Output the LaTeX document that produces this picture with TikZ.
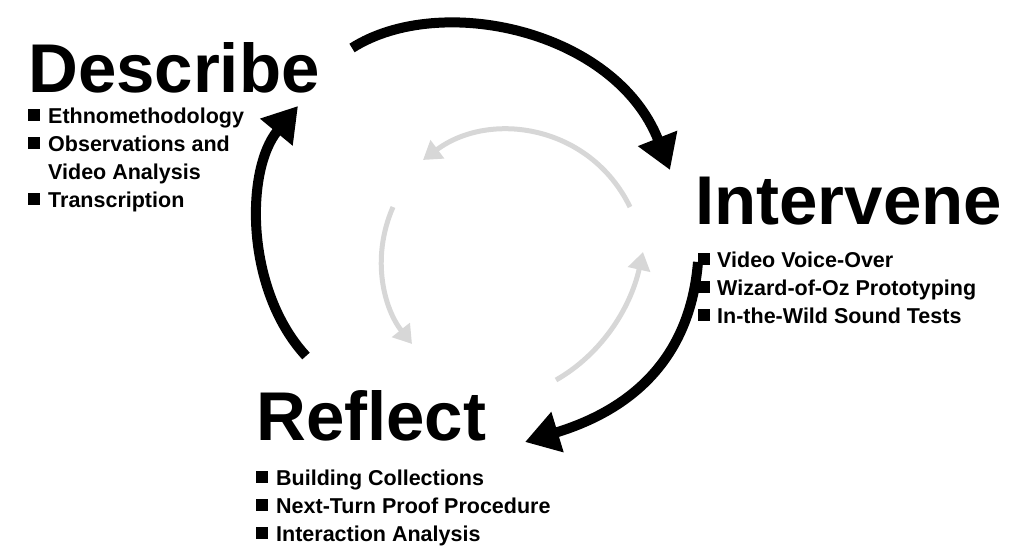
\documentclass[tikz,border=0pt]{standalone}
\usepackage{fontspec}
\setmainfont{Liberation Sans}
\usetikzlibrary{arrows.meta}
\begin{document}
\begin{tikzpicture}[x=1pt,y=-1pt,
  title/.style={anchor=base west,inner sep=0,font=\fontsize{69}{69}\selectfont\bfseries},
  item/.style={anchor=base west,inner sep=0,font=\fontsize{21.5}{21.5}\selectfont\bfseries},
  bul/.style={fill=black,minimum size=12,inner sep=0,anchor=south west},
  big/.style={line width=10,-{Triangle[length=34,width=40]}},
  small/.style={line width=5,draw={rgb,255:red,215;green,215;blue,215},-{Triangle[length=18,width=22]}}]
\useasboundingbox (0,0) rectangle (1023,554);
% Describe
\node[title] (d) at (28,92) {Describe};
\node[bul] (db1) at (28,121) {}; \node[item] (d1) at (48,123) {Ethnomethodology};
\node[bul] (db2) at (28,149) {}; \node[item] (d2) at (48,151) {Observations and};
\node[item] (d3) at (48,179) {Video Analysis};
\node[bul] (db4) at (28,205) {}; \node[item] (d4) at (48,207) {Transcription};
% Intervene
\node[title] (i) at (695,224) {Intervene};
\node[bul] (ib1) at (698,265) {}; \node[item] (i1) at (717,267) {Video Voice-Over};
\node[bul] (ib2) at (698,293) {}; \node[item] (i2) at (717,295) {Wizard-of-Oz Prototyping};
\node[bul] (ib3) at (698,321) {}; \node[item] (i3) at (717,323) {In-the-Wild Sound Tests};
% Reflect
\node[title] (r) at (256,440) {Reflect};
\node[bul] (rb1) at (256,483) {}; \node[item] (r1) at (276,485) {Building Collections};
\node[bul] (rb2) at (256,511) {}; \node[item] (r2) at (276,513) {Next-Turn Proof Procedure};
\node[bul] (rb3) at (256,539) {}; \node[item] (r3) at (276,541) {Interaction Analysis};
% big arrows
\coordinate (a1) at (352,48); \coordinate (a2) at (670,170);
\coordinate (b1) at (698,262); \coordinate (b2) at (525,442);
\coordinate (c1) at (306,356); \coordinate (c2) at (298,106);
\draw[big] (a1) .. controls (440,-8) and (615,30) .. (a2);
\draw[big] (b1) .. controls (690,360) and (630,410) .. (b2);
\draw[big] (c1) .. controls (245,290) and (245,170) .. (c2);
% small arrows
\coordinate (s1) at (630,207); \coordinate (s2) at (423,160);
\coordinate (t1) at (393,207); \coordinate (t2) at (412,344);
\coordinate (u1) at (556,380); \coordinate (u2) at (643,252);
\draw[small] (s1) .. controls (590,125) and (490,110) .. (s2);
\draw[small] (t1) .. controls (370,260) and (385,310) .. (t2);
\draw[small] (u1) .. controls (600,355) and (630,310) .. (u2);
\end{tikzpicture}
\end{document}
